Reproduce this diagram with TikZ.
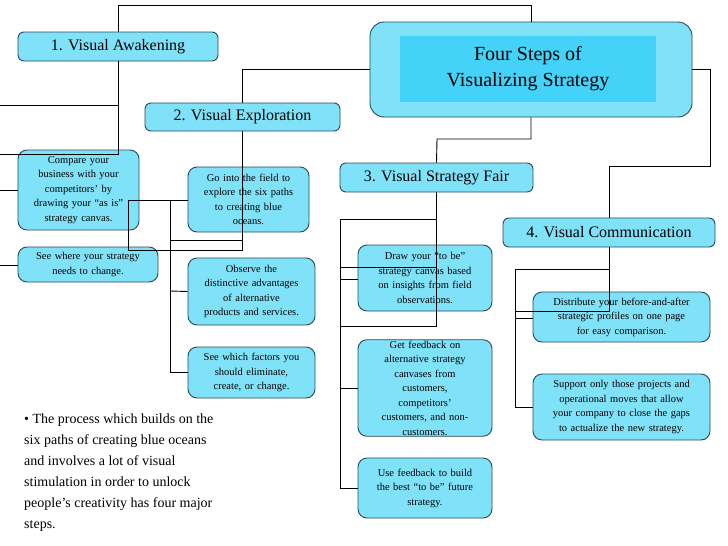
\documentclass[tikz,border=0pt]{standalone}
\usepackage{fontspec}
\setmainfont{Liberation Serif}
\definecolor{boxfill}{HTML}{80E2F8}
\definecolor{innerfill}{HTML}{44D2F8}
\definecolor{boxline}{HTML}{2A4A58}
\begin{document}
\begin{tikzpicture}[x=1pt,y=-1pt,
  box/.style={draw=boxline,fill=boxfill,rounded corners=6pt,line width=0.9pt,inner sep=1pt,align=center},
  head/.style={box,font=\fontsize{16}{19}\selectfont},
  sub/.style={box,rounded corners=9pt,font=\fontsize{10.5}{14.5}\selectfont},
  wire/.style={draw=black,line width=0.9pt}]
\useasboundingbox (0,0) rectangle (728,546);
\fill[white] (0,0) rectangle (728,546);
% title
\node[box,rounded corners=14pt,minimum width=322pt,minimum height=95pt] (title) at (531,69.5) {};
\node[fill=innerfill,minimum width=256pt,minimum height=66pt,inner sep=0pt,align=center,font=\fontsize{20}{26}\selectfont] (titlein) at (528,69) {Four Steps of\\Visualizing Strategy};
% headers
\node[head,minimum width=200pt,minimum height=29pt] (h1) at (118,46.5) {1. Visual Awakening};
\node[head,minimum width=195pt,minimum height=28pt] (h2) at (242.5,117) {2. Visual Exploration};
\node[head,minimum width=193pt,minimum height=29pt] (h3) at (436.5,177.5) {3. Visual Strategy Fair};
\node[head,minimum width=212pt,minimum height=29pt] (h4) at (609,232.5) {4. Visual Communication};
% subs
\node[sub,minimum width=121pt,minimum height=80pt,text width=112pt] (a1) at (78.5,190) {Compare your\\business with your\\competitors' by\\drawing your “as is”\\strategy canvas.};
\node[sub,minimum width=140pt,minimum height=35pt,text width=134pt] (a2) at (88,264.5) {See where your strategy\\needs to change.};
\node[sub,minimum width=121pt,minimum height=65pt,text width=112pt] (b1) at (248.5,199.5) {Go into the field to\\explore the six paths\\to creating blue\\oceans.};
\node[sub,minimum width=127pt,minimum height=67pt,text width=124pt] (b2) at (251.5,291.5) {Observe the\\distinctive advantages\\of alternative\\products and services.};
\node[sub,minimum width=127pt,minimum height=51pt,text width=120pt] (b3) at (251.5,372.5) {See which factors you\\should eliminate,\\create, or change.};
\node[sub,minimum width=134pt,minimum height=66pt,text width=128pt] (c1) at (425,278) {Draw your “to be”\\strategy canvas based\\on insights from field\\observations.};
\node[sub,minimum width=134pt,minimum height=96pt,text width=128pt] (c2) at (425,388) {Get feedback on\\alternative strategy\\canvases from\\customers,\\competitors'\\customers, and non-\\customers.};
\node[sub,minimum width=134pt,minimum height=60pt,text width=128pt] (c3) at (425,488) {Use feedback to build\\the best “to be” future\\strategy.};
\node[sub,minimum width=177pt,minimum height=50pt,text width=172pt] (d1) at (621.5,317) {Distribute your before-and-after\\strategic profiles on one page\\for easy comparison.};
\node[sub,minimum width=177pt,minimum height=66pt,text width=172pt] (d2) at (621.5,407) {Support only those projects and\\operational moves that allow\\your company to close the gaps\\to actualize the new strategy.};
% bullet text
\node[anchor=north west,align=left,font=\fontsize{14}{21}\selectfont,inner sep=0pt] (bullet) at (24,414) {• The process which builds on the\\six paths of creating blue oceans\\and involves a lot of visual\\stimulation in order to unlock\\people’s creativity has four major\\steps.};
% connectors
\coordinate (e1) at (0,154);
\coordinate (e2) at (0,105);
\coordinate (e3) at (0,190);
\coordinate (e4) at (0,265);
\draw[wire] (title.north) |- (118,5) -- (h1.north);
\draw[wire] (title.west) -| (h2.north);
\draw[wire] (title.south) |- (437,139) -- (h3.north);
\draw[wire] (title.east) -| (710,166) -| (h4.north);
\draw[wire] (h1.south) |- (e1);
\draw[wire] (e2) -- (118,105);
\draw[wire] (e3) -- (a1.west |- e3);
\draw[wire] (e4) -- (a2.west |- e4);
\draw[wire] (h2.south) |- (128,250) |- (b1.west |- 0,200);
\draw[wire] (170,200) |- (b3.west);
\draw[wire] (170,291) -- (b2.west);
\draw[wire] (170,240) -- (242,240);
\draw[wire] (h3.south) |- (340,326) -- (340,219) -- (437,219);
\draw[wire] (340,326) |- (c3.west);
\draw[wire] (340,267) -- (437,267);
\draw[wire] (340,279) -- (c1.west |- 0,279);
\draw[wire] (340,388) -- (c2.west);
\draw[wire] (h4.south) |- (515,311);
\draw[wire] (515,269) -- (609,269);
\draw[wire] (515,269) |- (d2.west |- 0,407);
\draw[wire] (515,318) -- (d1.west |- 0,318);
\end{tikzpicture}
\end{document}
